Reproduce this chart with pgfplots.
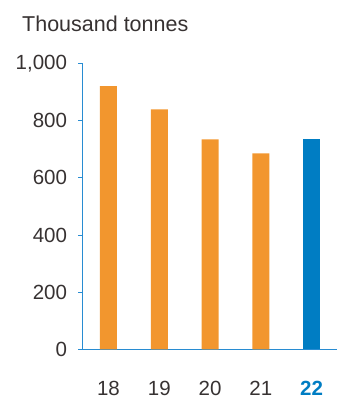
\documentclass[border=0pt]{standalone}
\usepackage{pgfplots}
\pgfplotsset{compat=1.18}
\usepackage{fontspec}
\setmainfont{Liberation Sans}
\definecolor{barorange}{RGB}{242,150,46}
\definecolor{barblue}{RGB}{0,125,195}
\definecolor{axblue}{RGB}{40,140,210}
\definecolor{txt}{RGB}{55,50,50}
\begin{document}
\begin{tikzpicture}[x=1pt,y=1pt]
\path[use as bounding box] (0,0) rectangle (342,400);
\node[anchor=base west, inner sep=0pt, text=txt, font=\fontsize{21.5}{24}\selectfont] at (22,368.5) {Thousand tonnes};
\begin{axis}[
  at={(82.5pt,50.5pt)}, anchor=south west,
  scale only axis, width=254.5pt, height=286.2pt,
  xmin=-0.512, xmax=4.5, ymin=0, ymax=1000,
  axis x line=bottom, axis y line=left,
  axis line style={-, draw=axblue, line width=1pt},
  ytick={0,200,400,600,800,1000},
  xtick={0,1,2,3,4},
  xticklabels={18,19,20,21,{\textbf{\color{barblue}22}}},
  tick align=outside, major tick length=4pt,
  y tick style={draw=axblue, line width=1pt},
  x tick style={draw=none},
  /pgf/number format/assume math mode=true,
  /pgf/number format/1000 sep={,},
  ticklabel style={font=\fontsize{20.5}{24}\selectfont, text=txt},
  yticklabel style={anchor=east, xshift=-8pt},
  xticklabel style={anchor=base, yshift=-42pt},
  clip=false,
]
\addplot[ybar, bar width=17pt, fill=barorange, draw=none] coordinates {(0,920) (1,839) (2,734) (3,685)};
\addplot[ybar, bar width=17pt, fill=barblue, draw=none] coordinates {(4,734)};
\end{axis}
\end{tikzpicture}
\end{document}
